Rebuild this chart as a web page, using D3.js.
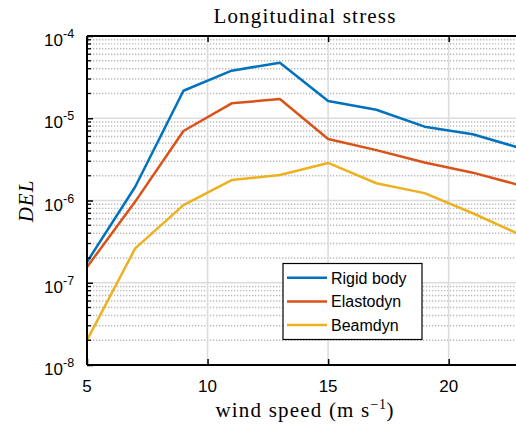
<!DOCTYPE html>
<html>
<head>
<meta charset="utf-8">
<script src="https://cdn.jsdelivr.net/npm/d3@7"></script>
<style>
  html, body { margin: 0; padding: 0; background: #fff; }
  svg { display: block; }
</style>
</head>
<body>
<div id="chart"></div>
<script>
// Wind speeds (m/s) at which the damage-equivalent load was evaluated
const windSpeeds = [5, 7, 9, 11, 13, 15, 17, 19, 21, 23];

// DEL of longitudinal stress for each structural model
const rigidBody = [1.79e-7, 1.47e-6, 2.16e-5, 3.79e-5, 4.74e-5, 1.62e-5, 1.27e-5, 7.9e-6, 6.4e-6, 4.3e-6];
const elastodyn = [1.55e-7, 9.7e-7, 7.0e-6, 1.52e-5, 1.71e-5, 5.6e-6, 4.1e-6, 2.9e-6, 2.18e-6, 1.52e-6];
const beamdyn   = [2.0e-8, 2.62e-7, 8.8e-7, 1.77e-6, 2.04e-6, 2.86e-6, 1.62e-6, 1.23e-6, 7.0e-7, 3.8e-7];

const seriesNames = ["Rigid body", "Elastodyn", "Beamdyn"];
const seriesColors = ["#0072BD", "#D95319", "#EDB120"];

const xTicks = [5, 10, 15, 20];
const yTickExponents = [-8, -7, -6, -5, -4];

const W = 516, H = 427;
const plotL = 87, plotT = 36, plotR = 521, plotB = 365;

const svg = d3.select("#chart").append("svg")
  .attr("width", W).attr("height", H);

const x = d3.scaleLinear().domain([5, 23]).range([plotL, plotR]);
const y = d3.scaleLog().domain([1e-8, 1e-4]).range([plotB, plotT]);

svg.append("defs").append("clipPath").attr("id", "plotclip")
  .append("rect").attr("x", plotL).attr("y", plotT)
  .attr("width", plotR - plotL).attr("height", plotB - plotT);

const grid = svg.append("g");

// minor horizontal grid (dotted)
const minorVals = [];
for (let e = -8; e < -4; e++) for (let m = 2; m <= 9; m++) minorVals.push(m * Math.pow(10, e));
grid.selectAll("line.minor").data(minorVals).join("line")
  .attr("x1", plotL).attr("x2", plotR)
  .attr("y1", d => y(d)).attr("y2", d => y(d))
  .attr("stroke", "#b9b9b9").attr("stroke-width", 1.3)
  .attr("stroke-dasharray", "1.3,1.7");

// major grid (solid light)
grid.selectAll("line.majy").data(yTickExponents.slice(1, -1)).join("line")
  .attr("x1", plotL).attr("x2", plotR)
  .attr("y1", d => y(Math.pow(10, d))).attr("y2", d => y(Math.pow(10, d)))
  .attr("stroke", "#dcdcdc").attr("stroke-width", 1.6);
grid.selectAll("line.majx").data(xTicks.slice(1)).join("line")
  .attr("y1", plotT).attr("y2", plotB)
  .attr("x1", d => x(d)).attr("x2", d => x(d))
  .attr("stroke", "#dcdcdc").attr("stroke-width", 1.6);

// data lines
const line = d3.line().x((d, i) => x(windSpeeds[i])).y(d => y(d));
const plot = svg.append("g").attr("clip-path", "url(#plotclip)");
[rigidBody, elastodyn, beamdyn].forEach((s, k) => {
  plot.append("path").datum(s)
    .attr("d", line)
    .attr("fill", "none")
    .attr("stroke", seriesColors[k])
    .attr("stroke-width", 2.5)
    .attr("stroke-linejoin", "round");
});

// axes
const axisColor = "#000";
const yAxis = d3.axisLeft(y)
  .tickValues(yTickExponents.map(e => Math.pow(10, e)))
  .tickSize(-6).tickFormat("");
const gy = svg.append("g").attr("transform", `translate(${plotL},0)`).call(yAxis);
gy.select(".domain").attr("stroke", axisColor).attr("stroke-width", 2).attr("d", `M0,${plotT}V${plotB}`);
gy.selectAll(".tick line").attr("stroke", axisColor).attr("stroke-width", 1.5);

// minor ticks on the y axis
svg.append("g").selectAll("line").data(minorVals).join("line")
  .attr("x1", plotL).attr("x2", plotL + 4)
  .attr("y1", d => y(d)).attr("y2", d => y(d))
  .attr("stroke", axisColor).attr("stroke-width", 1.3);

const xAxis = d3.axisBottom(x).tickValues(xTicks).tickSize(-6).tickFormat("");
const gx = svg.append("g").attr("transform", `translate(0,${plotB})`).call(xAxis);
gx.select(".domain").attr("stroke", axisColor).attr("stroke-width", 2).attr("d", `M${plotL},0H${W}`);
gx.selectAll(".tick line").attr("stroke", axisColor).attr("stroke-width", 1.5);

const xTop = d3.axisTop(x).tickValues(xTicks).tickSize(-6).tickFormat("");
const gxt = svg.append("g").attr("transform", `translate(0,${plotT})`).call(xTop);
gxt.select(".domain").attr("stroke", axisColor).attr("stroke-width", 2).attr("d", `M${plotL},0H${W}`);
gxt.selectAll(".tick line").attr("stroke", axisColor).attr("stroke-width", 1.5);

// tick labels
const sans = "'Liberation Sans', Arial, sans-serif";
svg.append("g").selectAll("text").data(xTicks).join("text")
  .attr("x", d => x(d)).attr("y", 392)
  .attr("text-anchor", "middle")
  .attr("font-family", sans).attr("font-size", 17)
  .text(d => d);

const ylab = svg.append("g").selectAll("g").data(yTickExponents).join("g")
  .attr("transform", d => `translate(63,${y(Math.pow(10, d)) + 10})`);
ylab.append("text")
  .attr("text-anchor", "end")
  .attr("font-family", sans).attr("font-size", 17)
  .text("10");
ylab.append("text")
  .attr("x", 0).attr("y", -8)
  .attr("font-family", sans).attr("font-size", 12.5)
  .text(d => d);

// titles
const serif = "'Liberation Serif', 'Times New Roman', serif";
svg.append("text")
  .attr("x", 305).attr("y", 23)
  .attr("text-anchor", "middle")
  .attr("font-family", serif).attr("font-size", 21)
  .attr("letter-spacing", 1.2)
  .text("Longitudinal stress");

const xl = svg.append("text")
  .attr("x", 305).attr("y", 417)
  .attr("text-anchor", "middle")
  .attr("font-family", serif).attr("font-size", 21)
  .attr("letter-spacing", 1.2);
xl.append("tspan").text("wind speed (m s");
xl.append("tspan").attr("dy", -8).attr("font-size", 14).attr("letter-spacing", 0.5).text("\u22121");
xl.append("tspan").attr("dy", 8).text(")");

svg.append("text")
  .attr("transform", "translate(33,201) rotate(-90)")
  .attr("text-anchor", "middle")
  .attr("font-family", serif).attr("font-style", "italic").attr("font-size", 21)
  .attr("letter-spacing", 1)
  .text("DEL");

// legend
const lg = svg.append("g");
lg.append("rect")
  .attr("x", 283).attr("y", 263.5).attr("width", 139).attr("height", 76)
  .attr("fill", "#fff").attr("stroke", "#000").attr("stroke-width", 1.2);
const rows = lg.selectAll("g.row").data(seriesNames).join("g")
  .attr("transform", (d, i) => `translate(0,${277.7 + i * 23.7})`);
rows.append("line")
  .attr("x1", 287).attr("x2", 327).attr("y1", 0).attr("y2", 0)
  .attr("stroke", (d, i) => seriesColors[i]).attr("stroke-width", 2.5);
rows.append("text")
  .attr("x", 331).attr("y", 6)
  .attr("font-family", sans).attr("font-size", 16)
  .text(d => d);
</script>
</body>
</html>
